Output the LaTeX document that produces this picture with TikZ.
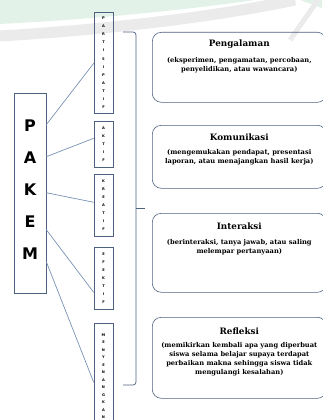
\documentclass[tikz,border=0pt]{standalone}
\usepackage{fontspec}
\setmainfont{DejaVu Serif}
\newfontfamily\heavyfont{DejaVu Sans}
\usetikzlibrary{calc}
\definecolor{boxc}{RGB}{78,98,128}
\definecolor{linec}{RGB}{120,146,180}
\definecolor{mint}{RGB}{226,242,233}
\definecolor{wmgray}{RGB}{235,235,235}
\tikzset{
  bigbox/.style={draw=boxc, line width=0.6pt, minimum width=32pt, minimum height=200pt, inner sep=0pt},
  bigletters/.style={font=\heavyfont\bfseries\fontsize{16}{32}\selectfont, align=center, inner sep=0pt},
  vbox/.style={draw=boxc, line width=0.6pt, minimum width=19pt, inner sep=0pt, align=center,
    font=\heavyfont\bfseries\fontsize{3.6}{8.1}\selectfont},
  infobox/.style={draw=boxc, line width=0.6pt, rounded corners=9pt, minimum width=174pt, inner sep=0pt},
  titletext/.style={font=\bfseries\fontsize{8.8}{10}\selectfont, inner sep=0pt},
  desctext/.style={font=\bfseries\fontsize{6.7}{8.9}\selectfont, align=center, inner sep=0pt},
  conn/.style={draw=linec, line width=0.7pt},
  brace/.style={draw=boxc, line width=0.7pt}
}
\begin{document}
\begin{tikzpicture}[x=1pt,y=-1pt]
\useasboundingbox (0,0) rectangle (322,420);
% watermark
\fill[mint] (0,0) -- (255,0) .. controls (170,12) and (80,20) .. (0,24) -- cycle;
\draw[wmgray, line width=11pt] (0,36) .. controls (100,30) and (210,18) .. (295,0);
\fill[mint] (300,0) -- (322,0) -- (322,8) -- cycle;
\draw[wmgray, line width=5pt] (318,0) -- (290,40);

% PAKEM
\node[bigbox] (pakem) at (30,193) {};
\node[bigletters] (pakemtxt) at (30,189.5) {P\\A\\K\\E\\M};

% vertical boxes
\node[vbox, minimum height=101pt, anchor=north] (partisipatif) at (103.5,12) {P\\A\\R\\T\\I\\S\\I\\P\\A\\T\\I\\F};
\node[vbox, minimum height=46pt, anchor=north] (aktif) at (103.5,121) {A\\K\\T\\I\\F};
\node[vbox, minimum height=62pt, anchor=north] (kreatif) at (103.5,174) {K\\R\\E\\A\\T\\I\\F};
\node[vbox, minimum height=62pt, anchor=north] (efektif) at (103.5,247) {E\\F\\E\\K\\T\\I\\F};
\node[vbox, minimum height=106pt, anchor=north, font=\heavyfont\bfseries\fontsize{3.6}{7.5}\selectfont] (menyenangkan) at (103.5,323) {M\\E\\N\\Y\\E\\N\\A\\N\\G\\K\\A\\N};

% connectors
\draw[conn] ($(pakem.north east)+(0,32)$) -- ($(partisipatif.west)+(0,0.5)$);
\draw[conn] ($(pakem.north east)+(0,64)$) -- ($(aktif.west)+(0,-6)$);
\draw[conn] ($(pakem.north east)+(0,100)$) -- ($(kreatif.west)+(0,-3)$);
\draw[conn] ($(pakem.north east)+(0,137)$) -- ($(efektif.west)+(0,14)$);
\draw[conn] ($(pakem.north east)+(0,169)$) -- ($(menyenangkan.west)+(0,6)$);

% brace
\coordinate (bt) at (123,32);
\coordinate (bb) at (123,385);
\coordinate (bm) at (136,208);
\coordinate (bmtip) at (145,208);
\draw[brace, rounded corners=3pt] (bt) -| (bm) |- (bb);
\draw[brace] (bm) -- (bmtip);

% info boxes
\node[infobox, minimum height=70pt, anchor=north west] (b1) at (152,32) {};
\node[titletext, anchor=north] (t1) at ($(b1.north)+(0,8)$) {Pengalaman};
\node[desctext, anchor=north] (d1) at ($(t1.south)+(0,8)$) {(eksperimen, pengamatan, percobaan,\\penyelidikan, atau wawancara)};

\node[infobox, minimum height=63pt, anchor=north west] (b2) at (152,125) {};
\node[titletext, anchor=north] (t2) at ($(b2.north)+(0,9)$) {Komunikasi};
\node[desctext, anchor=north] (d2) at ($(t2.south)+(0,8)$) {(mengemukakan pendapat, presentasi\\laporan, atau menajangkan hasil kerja)};

\node[infobox, minimum height=79pt, anchor=north west] (b3) at (152,213) {};
\node[titletext, anchor=north] (t3) at ($(b3.north)+(0,10)$) {Interaksi};
\node[desctext, anchor=north] (d3) at ($(t3.south)+(0,9)$) {(berinteraksi, tanya jawab, atau saling\\melempar pertanyaan)};

\node[infobox, minimum height=81pt, anchor=north west] (b4) at (152,317) {};
\node[titletext, anchor=north] (t4) at ($(b4.north)+(0,11)$) {Refleksi};
\node[desctext, anchor=north] (d4) at ($(t4.south)+(0,7)$) {(memikirkan kembali apa yang diperbuat\\siswa selama belajar supaya terdapat\\perbaikan makna sehingga siswa tidak\\mengulangi kesalahan)};
\end{tikzpicture}
\end{document}
